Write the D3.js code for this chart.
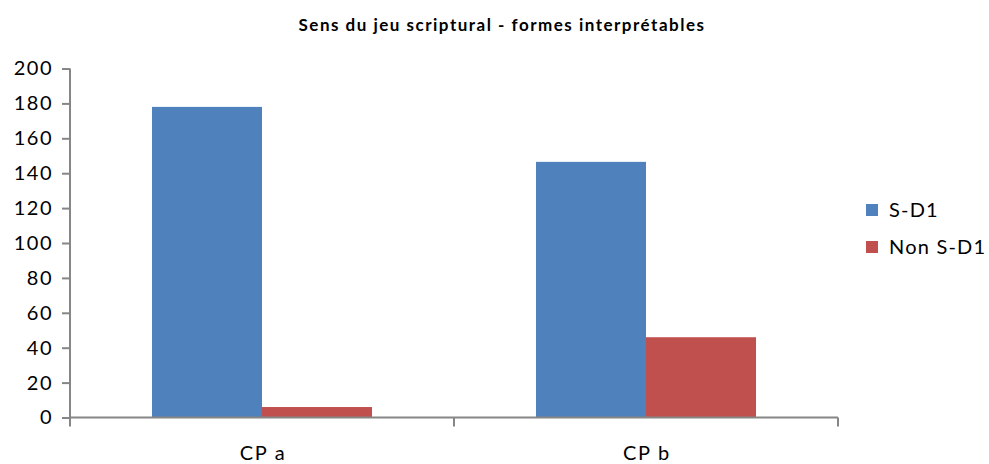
<!DOCTYPE html>
<html>
<head>
<meta charset="utf-8">
<script src="https://cdn.jsdelivr.net/npm/d3@7"></script>
<style>
  body { margin: 0; background: #fff; }
  text { font-family: Lato, "Liberation Sans", sans-serif; fill: #000; }
</style>
</head>
<body>
<div id="chart"></div>
<script>
const categories = ['CP a', 'CP b'];
const seriesNames = ['S-D1', 'Non S-D1'];
const sd1 = [178, 146.5];
const nonSd1 = [6, 46];
const yTicks = [0, 20, 40, 60, 80, 100, 120, 140, 160, 180, 200];
const colors = ['#4F81BD', '#C0504D'];

const width = 989, height = 464;
const plotLeft = 70, plotRight = 838, plotTop = 68.5, plotBottom = 417.5;

const svg = d3.select('#chart').append('svg')
  .attr('width', width)
  .attr('height', height);

svg.append('text')
  .attr('x', 502)
  .attr('y', 31)
  .attr('text-anchor', 'middle')
  .style('font-size', '17px')
  .style('font-weight', 'bold')
  .style('letter-spacing', '1.5px')
  .text('Sens du jeu scriptural - formes interprétables');

const x = d3.scaleBand()
  .domain(categories)
  .range([plotLeft, plotRight])
  .paddingInner(0.427)
  .paddingOuter(0.2135);

const xs = d3.scaleBand()
  .domain(seriesNames)
  .range([0, x.bandwidth()]);

const y = d3.scaleLinear()
  .domain([0, 200])
  .range([plotBottom, plotTop]);

const data = categories.map((c, i) => ({ cat: c, vals: [sd1[i], nonSd1[i]] }));

const groups = svg.append('g')
  .selectAll('g')
  .data(data)
  .enter().append('g')
  .attr('transform', d => `translate(${x(d.cat)},0)`);

groups.selectAll('rect')
  .data(d => d.vals.map((v, j) => ({ name: seriesNames[j], v, j })))
  .enter().append('rect')
  .attr('x', d => xs(d.name))
  .attr('y', d => y(d.v))
  .attr('width', xs.bandwidth())
  .attr('height', d => plotBottom - y(d.v))
  .attr('fill', d => colors[d.j]);

// y axis
const yAxis = svg.append('g')
  .attr('transform', `translate(${plotLeft},0)`)
  .call(d3.axisLeft(y).tickValues(yTicks).tickSize(8).tickPadding(9));
yAxis.selectAll('line, path').attr('stroke', '#868686').attr('stroke-width', 2);
yAxis.select('path').attr('d', `M0,${plotTop}V${plotBottom}`);
yAxis.selectAll('text')
  .style('font-size', '20px')
  .style('font-family', 'Lato, sans-serif')
  .style('letter-spacing', '1.5px')
  .attr('fill', '#000');

// x axis with boundary ticks
const xAxisG = svg.append('g')
  .attr('transform', `translate(0,${plotBottom})`);
xAxisG.append('line')
  .attr('x1', plotLeft).attr('x2', plotRight)
  .attr('stroke', '#868686').attr('stroke-width', 2);
const bounds = [plotLeft].concat(categories.map(c => x(c) + x.bandwidth() + x.step() * x.paddingInner() / 2));
bounds[bounds.length - 1] = plotRight;
xAxisG.selectAll('.xt')
  .data(bounds)
  .enter().append('line')
  .attr('x1', d => d).attr('x2', d => d)
  .attr('y1', 0).attr('y2', 9)
  .attr('stroke', '#868686').attr('stroke-width', 2);
xAxisG.selectAll('.xl')
  .data(categories)
  .enter().append('text')
  .attr('x', d => x(d) + x.bandwidth() / 2 + 1)
  .attr('y', 42)
  .attr('text-anchor', 'middle')
  .style('font-size', '20px')
  .style('letter-spacing', '1.7px')
  .text(d => d);

// legend
const legend = svg.append('g')
  .selectAll('g')
  .data(seriesNames)
  .enter().append('g')
  .attr('transform', (d, i) => `translate(866,${204 + i * 37})`);
legend.append('rect')
  .attr('width', 12).attr('height', 12)
  .attr('fill', (d, i) => colors[i]);
legend.append('text')
  .attr('x', 23)
  .attr('y', 13)
  .style('font-size', '20px')
  .style('letter-spacing', '1.2px')
  .text(d => d);
</script>
</body>
</html>
